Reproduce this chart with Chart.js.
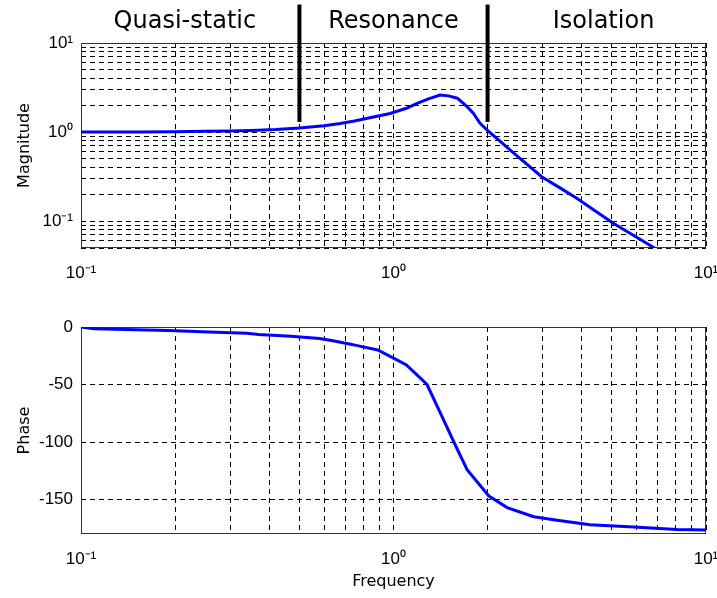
<!DOCTYPE html>
<html>
<head>
<meta charset="utf-8">
<script src="https://cdn.jsdelivr.net/npm/chart.js@4"></script>
<style>
  html, body { margin: 0; padding: 0; background: #fff; }
  #wrap { position: relative; width: 717px; height: 598px; }
  canvas { position: absolute; left: 0; }
  #magChart { top: 0; }
  #phaseChart { top: 290px; }
</style>
</head>
<body>
<div id="wrap">
  <canvas id="magChart" width="717" height="290"></canvas>
  <canvas id="phaseChart" width="717" height="308"></canvas>
</div>
<script>
// grid / tick positions
const freqTicks = [0.1, 0.2, 0.3, 0.4, 0.5, 0.6, 0.7, 0.8, 0.9,
                   1, 2, 3, 4, 5, 6, 7, 8, 9, 10];
const magTicks = [0.05, 0.06, 0.07, 0.08, 0.09,
                  0.1, 0.2, 0.3, 0.4, 0.5, 0.6, 0.7, 0.8, 0.9,
                  1, 2, 3, 4, 5, 6, 7, 8, 9, 10];
const phaseTicks = [-150, -100, -50, 0];

// magnitude curve
const magFreq = [0.1, 0.15, 0.2, 0.25, 0.3, 0.35, 0.42, 0.5, 0.6, 0.675, 0.75, 0.84, 0.975,
                 1.1, 1.19, 1.3, 1.41, 1.5, 1.6, 1.72, 1.8, 1.89, 1.99, 2.2, 2.5, 2.98,
                 3.4, 3.86, 4.4, 5.05, 5.8, 6.78, 8];
const magValue = [1.0, 1.0, 1.01, 1.02, 1.03, 1.045, 1.07, 1.11, 1.18, 1.25, 1.33, 1.45, 1.62,
                  1.85, 2.1, 2.38, 2.6, 2.55, 2.4, 1.93, 1.63, 1.26, 1.06, 0.78, 0.53, 0.316,
                  0.238, 0.181, 0.132, 0.095, 0.071, 0.051, 0.037];

// phase curve
const phaseFreq = [0.1, 0.11, 0.19, 0.27, 0.34, 0.37, 0.47, 0.58, 0.64, 0.73, 0.76, 0.89, 1.0,
                   1.1, 1.28, 1.43, 1.56, 1.72, 2.02, 2.31, 2.81, 3.34, 4.25, 5.87, 8.07, 10];
const phaseValue = [0, -1.5, -3, -4.5, -5.5, -6.5, -8, -10, -12, -15, -16, -20, -27,
                    -33, -50, -78, -100, -124, -147, -157, -165, -168, -172, -174, -176, -176.5];

// regions
const regionNames = ['Quasi-static', 'Resonance', 'Isolation'];
const regionLabelFreq = [0.215, 1, 4.7];
const dividerFreq = [0.5, 2];
const dividerSpan = [1.3, 27];

const sup = { '0': '\u2070', '1': '\u00B9', '2': '\u00B2', '3': '\u00B3', '-': '\u207B' };
function powerLabel(v) {
  const e = Math.log10(v);
  if (Math.abs(e - Math.round(e)) > 1e-9) return '';
  return '10' + String(Math.round(e)).split('').map(c => sup[c]).join('');
}

// force the axis boxes to fixed sizes so both plots line up
function fixSize(size) {
  return function (scale) {
    if (scale.isHorizontal()) scale.height = size; else scale.width = size;
    scale.paddingLeft = 0;
    scale.paddingRight = 0;
    scale.paddingTop = 0;
    scale.paddingBottom = 0;
  };
}
function useTicks(list) {
  return function (scale) { scale.ticks = list.map(v => ({ value: v })); };
}

const tickFont = { family: '"Liberation Sans", Arial, sans-serif', size: 17 };
const titleFont = { family: '"DejaVu Sans", sans-serif', size: 16 };
const grid = { color: '#000', lineWidth: 1, drawTicks: false };
const border = { display: false, dash: [5, 4] };

const frame = {
  id: 'frame',
  beforeDatasetsDraw(chart) {
    const { ctx, chartArea: a } = chart;
    ctx.save();
    ctx.strokeStyle = '#333';
    ctx.lineWidth = 1;
    ctx.strokeRect(a.left + 0.5, a.top + 0.5, a.width - 1, a.height - 1);
    ctx.restore();
  }
};

const regionLabels = {
  id: 'regionLabels',
  afterDraw(chart) {
    const { ctx, scales: { x } } = chart;
    ctx.save();
    ctx.font = '24px "DejaVu Sans", sans-serif';
    ctx.fillStyle = '#000';
    ctx.textAlign = 'center';
    ctx.textBaseline = 'alphabetic';
    regionNames.forEach((name, i) => {
      ctx.fillText(name, x.getPixelForValue(regionLabelFreq[i]), 28);
    });
    ctx.restore();
  }
};

const magChart = new Chart(document.getElementById('magChart'), {
  type: 'line',
  data: {
    datasets: [
      {
        data: magFreq.map((f, i) => ({ x: f, y: magValue[i] })),
        borderColor: '#0000ff',
        borderWidth: 3,
        pointRadius: 0,
        tension: 0
      },
      ...dividerFreq.map(f => ({
        data: dividerSpan.map(y => ({ x: f, y: y })),
        borderColor: '#000',
        borderWidth: 4,
        pointRadius: 0,
        clip: false
      }))
    ]
  },
  options: {
    responsive: false,
    animation: false,
    layout: { padding: { top: 43, right: 11, left: 0, bottom: 0 } },
    plugins: { legend: { display: false }, tooltip: { enabled: false } },
    scales: {
      x: {
        type: 'logarithmic',
        min: 0.1,
        max: 10,
        afterBuildTicks: useTicks(freqTicks),
        afterFit: fixSize(42),
        grid: grid,
        border: border,
        ticks: { callback: powerLabel, autoSkip: false, maxRotation: 0, padding: 15, font: tickFont, color: '#000' }
      },
      y: {
        type: 'logarithmic',
        min: 0.05,
        max: 10,
        afterBuildTicks: useTicks(magTicks),
        afterFit: fixSize(81),
        grid: grid,
        border: border,
        title: { display: true, text: 'Magnitude', font: titleFont, color: '#000', padding: { top: 15, bottom: 0 } },
        ticks: { callback: powerLabel, autoSkip: false, padding: 8, font: tickFont, color: '#000' }
      }
    }
  },
  plugins: [frame, regionLabels]
});

const phaseChart = new Chart(document.getElementById('phaseChart'), {
  type: 'line',
  data: {
    datasets: [{
      data: phaseFreq.map((f, i) => ({ x: f, y: phaseValue[i] })),
      borderColor: '#0000ff',
      borderWidth: 3,
      pointRadius: 0,
      tension: 0
    }]
  },
  options: {
    responsive: false,
    animation: false,
    layout: { padding: { top: 37, right: 11, left: 0, bottom: 0 } },
    plugins: { legend: { display: false }, tooltip: { enabled: false } },
    scales: {
      x: {
        type: 'logarithmic',
        min: 0.1,
        max: 10,
        afterBuildTicks: useTicks(freqTicks),
        afterFit: fixSize(64),
        grid: grid,
        border: border,
        title: { display: true, text: 'Frequency', font: titleFont, color: '#000', padding: { top: 0, bottom: 7 } },
        ticks: { callback: powerLabel, autoSkip: false, maxRotation: 0, padding: 15, font: tickFont, color: '#000' }
      },
      y: {
        type: 'linear',
        min: -180,
        max: 0,
        afterBuildTicks: useTicks(phaseTicks),
        afterFit: fixSize(81),
        grid: grid,
        border: border,
        title: { display: true, text: 'Phase', font: titleFont, color: '#000', padding: { top: 15, bottom: 0 } },
        ticks: { callback: v => String(v), autoSkip: false, padding: 8, font: tickFont, color: '#000' }
      }
    }
  },
  plugins: [frame]
});
</script>
</body>
</html>
